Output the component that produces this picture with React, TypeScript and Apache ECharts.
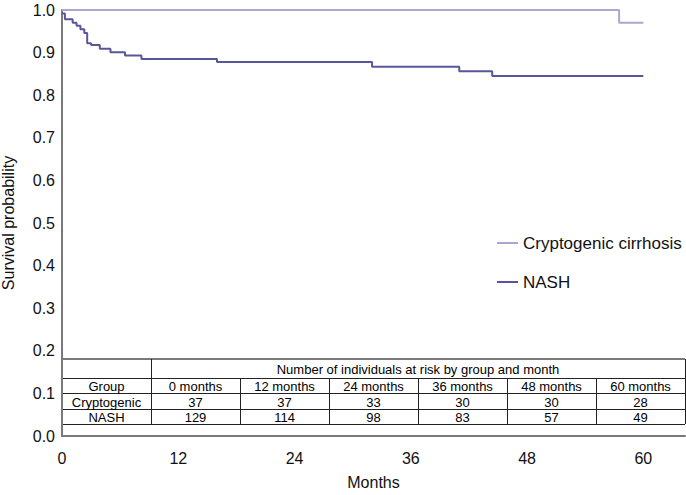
import React, { useEffect, useRef } from "react";
import * as echarts from "echarts";

const cryptoTimes = [0, 57.5, 60];
const cryptoSurv = [1.0, 0.97, 0.97];

const nashTimes = [0, 0.3, 1.1, 1.5, 1.9, 2.3, 2.6, 3.0, 3.9, 5.0, 6.5, 8.2, 16.0, 32.0, 41.0, 44.4, 60];
const nashSurv = [0.992, 0.978, 0.97, 0.963, 0.955, 0.946, 0.922, 0.918, 0.909, 0.901, 0.893, 0.885, 0.878, 0.867, 0.856, 0.845, 0.845];

const xTicks = [0, 12, 24, 36, 48, 60];
const tableTitle = "Number of individuals at risk by group and month";
const tableHeader = ["Group", "0 months", "12 months", "24 months", "36 months", "48 months", "60 months"];
const riskCrypto = ["Cryptogenic", "37", "37", "33", "30", "30", "28"];
const riskNash = ["NASH", "129", "114", "98", "83", "57", "49"];

const seriesNames = ["Cryptogenic cirrhosis", "NASH"];
const colors = ["#aaa7d0", "#58569a"];

const FONT = "'Liberation Sans', Arial, Helvetica, sans-serif";

export default function App() {
  const ref = useRef<HTMLDivElement>(null);
  useEffect(() => {
    if (!ref.current) return;
    const chart = echarts.init(ref.current, undefined, { renderer: "svg" });

    // table layout (pixels)
    const tLeft = 62, tRight = 685;
    const firstColRight = 151;
    const colW = (tRight - firstColRight) / 6;
    const rowY = [359, 378, 393, 409, 424];
    const els: any[] = [];
    const lineStyle = { stroke: "#222", lineWidth: 1 };
    els.push({ type: "line", shape: { x1: tLeft, y1: rowY[0], x2: tRight, y2: rowY[0] }, style: { stroke: "#7a7a7a", lineWidth: 2 } });
    for (let i = 1; i < rowY.length; i++) {
      els.push({ type: "line", shape: { x1: tLeft, y1: rowY[i] + 0.5, x2: tRight, y2: rowY[i] + 0.5 }, style: lineStyle });
    }
    els.push({ type: "line", shape: { x1: firstColRight + 0.5, y1: rowY[0], x2: firstColRight + 0.5, y2: rowY[4] }, style: lineStyle });
    els.push({ type: "line", shape: { x1: tRight + 0.5, y1: rowY[0], x2: tRight + 0.5, y2: rowY[4] }, style: lineStyle });
    for (let c = 1; c < 6; c++) {
      const x = Math.round(firstColRight + c * colW) + 0.5;
      els.push({ type: "line", shape: { x1: x, y1: rowY[1], x2: x, y2: rowY[4] }, style: lineStyle });
    }
    const txt = (t: string, x: number, y: number) => ({
      type: "text",
      x,
      y,
      style: { text: t, fill: "#000", font: `13px ${FONT}`, align: "center", verticalAlign: "middle" },
    });
    els.push(txt(tableTitle, (firstColRight + tRight) / 2, (rowY[0] + rowY[1]) / 2 + 1));
    const rows = [tableHeader, riskCrypto, riskNash];
    rows.forEach((row, r) => {
      const cy = (rowY[r + 1] + rowY[r + 2]) / 2 + 1;
      row.forEach((cell, c) => {
        const cx = c === 0 ? (tLeft + firstColRight) / 2 : firstColRight + (c - 0.5) * colW;
        els.push(txt(cell, cx, cy));
      });
    });

    const toPairs = (t: number[], s: number[]) => t.map((v, i) => [v, s[i]]);

    chart.setOption({
      animation: false,
      textStyle: { fontFamily: FONT },
      grid: { left: 62, right: 1, top: 10, bottom: 59, containLabel: false, outerBoundsMode: "none" },
      legend: {
        data: seriesNames,
        orient: "vertical",
        left: 492,
        top: 228,
        icon: "rect",
        itemWidth: 21,
        itemHeight: 2,
        itemGap: 19,
        textStyle: { fontSize: 17, color: "#111", fontFamily: FONT, lineHeight: 20 },
      },
      xAxis: {
        type: "value",
        min: 0,
        max: 64.3,
        interval: 12,
        name: "Months",
        nameLocation: "middle",
        nameGap: 38,
        nameTextStyle: { fontSize: 16, color: "#111", fontFamily: FONT },
        axisLine: { show: true, lineStyle: { color: "#7a7a7a", width: 2 } },
        axisTick: { show: false },
        splitLine: { show: false },
        axisLabel: {
          fontSize: 16,
          color: "#111",
          margin: 14,
          showMaxLabel: false,
          formatter: (v: number) => (xTicks.includes(v) ? String(v) : ""),
        },
      },
      yAxis: {
        type: "value",
        min: 0,
        max: 1,
        interval: 0.1,
        name: "Survival probability",
        nameLocation: "middle",
        nameGap: 46,
        nameTextStyle: { fontSize: 16, color: "#111", fontFamily: FONT },
        axisLine: { show: true, lineStyle: { color: "#7a7a7a", width: 2 } },
        axisTick: { show: false },
        splitLine: { show: false },
        axisLabel: { fontSize: 16, color: "#111", margin: 7, formatter: (v: number) => v.toFixed(1) },
      },
      series: [
        {
          name: seriesNames[0],
          type: "line",
          step: "end",
          showSymbol: false,
          data: toPairs(cryptoTimes, cryptoSurv),
          lineStyle: { color: colors[0], width: 2 },
          itemStyle: { color: colors[0] },
          z: 3,
        },
        {
          name: seriesNames[1],
          type: "line",
          step: "end",
          showSymbol: false,
          data: toPairs(nashTimes, nashSurv),
          lineStyle: { color: colors[1], width: 2 },
          itemStyle: { color: colors[1] },
          z: 3,
        },
      ],
      graphic: { elements: els },
    });
    return () => chart.dispose();
  }, []);
  return <div ref={ref} style={{ position: "fixed", left: 0, top: 0, width: 686, height: 495, background: "#fff" }} />;
}
